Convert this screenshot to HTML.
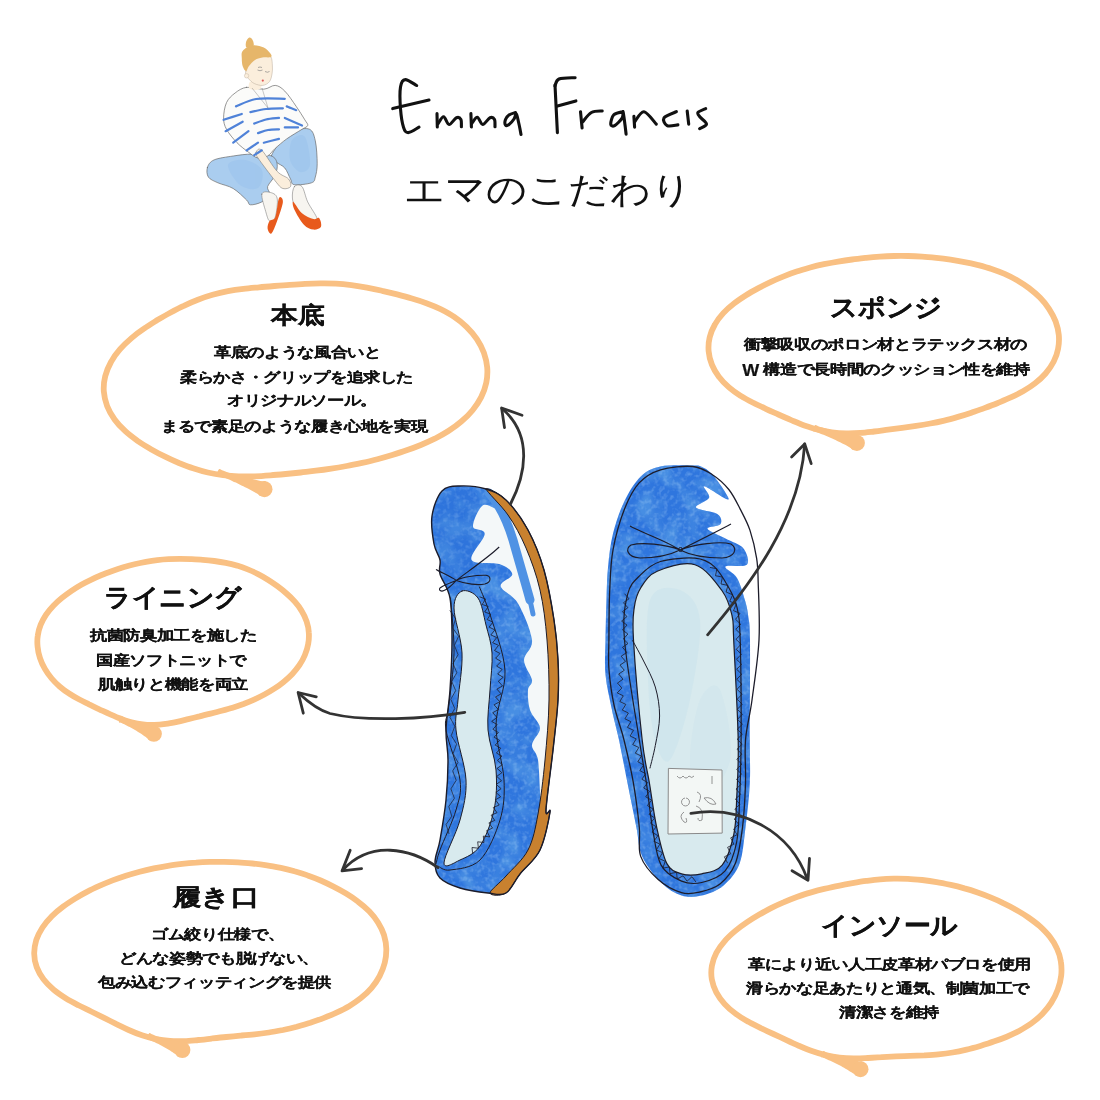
<!DOCTYPE html>
<html><head><meta charset="utf-8"><style>
html,body{margin:0;padding:0;background:#fff;width:1100px;height:1100px;overflow:hidden}
body{position:relative;font-family:"Liberation Sans",sans-serif;color:#111}
svg{position:absolute;left:0;top:0}
.l{position:absolute;white-space:nowrap;line-height:1;transform-origin:0 0}
</style></head><body>
<svg width="1100" height="1100" viewBox="0 0 1100 1100">
<path d="M271.4,156.0 C272.1,152.8 276.1,147.2 280.0,143.0 C283.9,138.8 290.1,133.3 295.0,131.0 C299.9,128.7 306.2,127.7 309.6,129.3 C313.0,130.9 314.0,135.1 315.3,140.8 C316.6,146.5 317.2,157.6 317.2,163.7 C317.2,169.8 316.2,173.9 315.3,177.1 C314.4,180.3 315.0,181.5 311.5,182.8 C308.0,184.1 297.8,185.3 294.3,184.7 C290.8,184.1 292.1,181.8 290.5,179.0 C288.9,176.2 287.2,170.8 284.8,168.0 C282.4,165.2 278.2,164.0 276.0,162.0 C273.8,160.0 270.7,159.2 271.4,156.0 Z" fill="#aacdef" stroke="#6a6a6a" stroke-width="0.7" stroke-linejoin="round" stroke-linecap="round"/>
<path d="M207.4,167.5 C208.3,164.6 209.8,161.8 214.1,159.9 C218.4,158.0 226.8,157.0 233.2,156.0 C239.6,155.0 245.9,154.1 252.3,154.1 C258.7,154.1 267.3,154.4 271.4,156.0 C275.5,157.6 276.5,160.5 277.1,163.7 C277.7,166.9 276.8,171.3 275.2,175.1 C273.6,178.9 268.6,183.4 267.6,186.6 C266.7,189.8 270.5,191.6 269.5,194.2 C268.5,196.8 265.0,200.1 261.8,201.9 C258.6,203.7 252.9,205.1 250.4,204.8 C247.9,204.5 249.5,202.7 246.6,200.0 C243.7,197.3 238.0,191.4 233.2,188.5 C228.4,185.6 222.0,184.7 217.9,182.8 C213.8,180.9 210.2,179.7 208.4,177.1 C206.7,174.5 206.5,170.4 207.4,167.5 Z" fill="#aacdef" stroke="#6a6a6a" stroke-width="0.7" stroke-linejoin="round" stroke-linecap="round"/>
<g opacity="0.3">
<path d="M228.0,165.0 C228.8,160.8 239.3,159.2 245.0,160.0 C250.7,160.8 259.8,165.3 262.0,170.0 C264.2,174.7 261.7,185.5 258.0,188.0 C254.3,190.5 245.0,188.8 240.0,185.0 C235.0,181.2 227.2,169.2 228.0,165.0 Z" fill="#8dbbea" stroke="none" stroke-width="0.7" stroke-linejoin="round" stroke-linecap="round"/>
<path d="M292.0,140.0 C294.5,136.2 302.0,132.8 305.0,137.0 C308.0,141.2 310.8,159.2 310.0,165.0 C309.2,170.8 303.3,172.8 300.0,172.0 C296.7,171.2 291.3,165.3 290.0,160.0 C288.7,154.7 289.5,143.8 292.0,140.0 Z" fill="#8dbbea" stroke="none" stroke-width="0.7" stroke-linejoin="round" stroke-linecap="round"/>
</g>
<path d="M261.8,194.2 C262.4,191.0 266.9,191.7 269.5,192.3 C272.1,192.9 276.2,193.8 277.1,198.0 C278.1,202.2 276.5,213.4 275.2,217.2 C273.9,221.0 271.1,222.0 269.5,221.0 C267.9,220.0 267.0,215.9 265.7,211.4 C264.4,206.9 261.2,197.4 261.8,194.2 Z" fill="#f7f5f0" stroke="#6a6a6a" stroke-width="0.5" stroke-linejoin="round" stroke-linecap="round"/>
<path d="M294.3,186.6 C295.9,184.7 299.8,184.0 302.0,186.6 C304.2,189.2 305.2,196.5 307.7,201.9 C310.2,207.3 316.9,215.9 317.2,219.1 C317.5,222.3 313.1,222.9 309.6,221.0 C306.1,219.1 299.1,211.4 296.2,207.6 C293.3,203.8 292.7,201.5 292.4,198.0 C292.1,194.5 292.7,188.5 294.3,186.6 Z" fill="#f7f5f0" stroke="#6a6a6a" stroke-width="0.5" stroke-linejoin="round" stroke-linecap="round"/>
<path d="M279.0,198.0 C280.3,195.4 283.2,198.1 282.9,201.9 C282.6,205.7 279.0,215.8 277.1,221.0 C275.2,226.2 273.0,232.1 271.4,233.4 C269.8,234.7 267.9,230.7 267.6,228.6 C267.3,226.5 268.2,222.9 269.5,221.0 C270.8,219.1 273.6,221.0 275.2,217.2 C276.8,213.4 277.7,200.6 279.0,198.0 Z" fill="#e85a1c" stroke="none" stroke-width="0.7" stroke-linejoin="round" stroke-linecap="round"/>
<path d="M293.4,201.9 C294.7,202.5 298.7,210.4 302.0,213.3 C305.3,216.2 310.5,218.3 313.4,219.1 C316.2,219.9 317.8,216.8 319.1,218.1 C320.4,219.4 321.9,224.8 321.0,226.7 C320.1,228.6 316.2,229.9 313.4,229.6 C310.5,229.3 307.1,228.2 303.9,224.8 C300.7,221.5 296.1,213.3 294.3,209.5 C292.6,205.7 292.1,201.3 293.4,201.9 Z" fill="#e85a1c" stroke="none" stroke-width="0.7" stroke-linejoin="round" stroke-linecap="round"/>
<path d="M246.6,87.3 C251.4,86.7 259.0,89.5 263.8,89.2 C268.6,88.9 271.7,85.1 275.2,85.4 C278.7,85.7 281.3,87.6 284.8,91.1 C288.3,94.6 292.9,101.6 296.2,106.4 C299.5,111.2 302.9,116.6 304.8,119.8 C306.7,123.0 308.2,123.9 307.7,125.5 C307.2,127.1 305.5,127.1 302.0,129.3 C298.5,131.5 291.2,135.7 286.7,138.9 C282.2,142.1 278.4,145.6 275.2,148.4 C272.0,151.2 270.5,154.4 267.6,156.0 C264.7,157.6 261.2,158.6 258.0,158.0 C254.8,157.4 252.0,154.8 248.5,152.2 C245.0,149.6 240.7,146.5 237.0,142.7 C233.3,138.9 228.7,133.4 226.5,129.3 C224.3,125.2 223.6,122.4 223.6,117.9 C223.6,113.5 224.6,106.8 226.5,102.6 C228.4,98.4 231.8,95.5 235.1,93.0 C238.4,90.5 241.8,87.9 246.6,87.3 Z" fill="#fbfbf9" stroke="#6a6a6a" stroke-width="0.7" stroke-linejoin="round" stroke-linecap="round"/>
<path d="M256.1,152.2 C256.7,150.9 258.3,147.1 261.8,150.3 C265.3,153.5 272.6,166.5 277.1,171.3 C281.6,176.1 286.4,176.4 288.6,179.0 C290.8,181.6 291.4,185.0 290.5,186.6 C289.6,188.2 285.4,189.4 282.9,188.5 C280.3,187.6 279.3,186.0 275.2,180.9 C271.1,175.8 261.2,162.8 258.0,158.0 C254.8,153.2 255.5,153.5 256.1,152.2 Z" fill="#fbeedc" stroke="#6a6a6a" stroke-width="0.5" stroke-linejoin="round" stroke-linecap="round"/>
<path d="M250.4,81.6 C252.2,80.4 258.2,79.9 260.0,81.0 C261.8,82.1 261.8,86.5 261.0,88.0 C260.2,89.5 257.0,90.0 255.0,90.0 C253.0,90.0 249.8,89.4 249.0,88.0 C248.2,86.6 248.6,82.8 250.4,81.6 Z" fill="#fbeedc" stroke="none" stroke-width="0.7" stroke-linejoin="round" stroke-linecap="round"/>
<path d="M246.0,71.0 C246.6,69.0 247.3,65.2 249.0,63.0 C250.7,60.8 253.3,59.1 256.0,58.0 C258.7,56.9 262.5,56.7 265.0,56.5 C267.5,56.3 269.8,55.4 271.0,57.0 C272.2,58.6 272.2,63.2 272.4,66.0 C272.6,68.8 272.5,71.4 272.0,74.0 C271.5,76.6 271.0,79.7 269.5,81.6 C268.0,83.5 265.4,85.1 262.8,85.4 C260.2,85.7 256.6,84.6 254.2,83.5 C251.8,82.4 249.9,80.1 248.5,78.7 C247.1,77.3 246.0,76.2 245.6,74.9 C245.2,73.6 245.4,73.0 246.0,71.0 Z" fill="#fbeedc" stroke="#b9ab9a" stroke-width="0.5" stroke-linejoin="round" stroke-linecap="round"/>
<circle cx="246.6" cy="75.8" r="2.2" fill="#fbeedc" stroke="#b9ab9a" stroke-width="0.4"/>
<path d="M242.7,51.0 C244.4,48.8 248.8,45.9 252.3,45.3 C255.8,44.7 260.9,46.2 263.8,47.5 C266.8,48.8 268.8,51.4 270.0,53.0 C271.2,54.6 272.3,56.2 271.0,57.0 C269.7,57.8 264.7,57.0 262.0,57.5 C259.3,58.0 257.2,58.6 255.0,60.0 C252.8,61.4 250.5,64.2 249.0,66.0 C247.5,67.8 247.1,71.0 246.0,71.0 C244.9,71.0 243.4,68.4 242.7,66.3 C242.0,64.2 241.8,61.1 241.8,58.6 C241.8,56.1 240.9,53.2 242.7,51.0 Z" fill="#e6b66a" stroke="none" stroke-width="0.7" stroke-linejoin="round" stroke-linecap="round"/>
<path d="M249.4,37.5 C250.5,37.2 251.9,38.6 252.6,40.0 C253.3,41.4 254.4,44.8 253.4,46.0 C252.4,47.2 247.7,48.2 246.5,47.5 C245.3,46.8 245.7,43.2 246.2,41.5 C246.7,39.8 248.3,37.8 249.4,37.5 Z" fill="#e6b66a" stroke="none" stroke-width="0.7" stroke-linejoin="round" stroke-linecap="round"/>
<circle cx="262.8" cy="80.6" r="1.1" fill="#e05555"/>
<path d="M257.5,70 q2.5,1.5 5,0 M265,71.5 q2.5,1.5 4.5,0 M258,67.5 q2,-1 4,0" stroke="#777" stroke-width="0.6" fill="none"/>
<path d="M252,88 L268,108 M262,88 L268,108" stroke="#777" stroke-width="0.4" fill="none"/>
<path d="M236.0,106.4 C239.3,105.2 247.9,100.3 256.0,99.0 C264.1,97.7 280.0,98.8 284.8,98.8 " fill="none" stroke="#4f82d8" stroke-width="2.2" stroke-linecap="round"/>
<path d="M223.6,119.8 C226.6,118.8 238.8,115.0 241.8,114.0 " fill="none" stroke="#4f82d8" stroke-width="2.2" stroke-linecap="round"/>
<path d="M250.4,112.1 C253.0,111.6 260.6,109.6 266.0,109.0 C271.4,108.4 280.1,108.4 282.9,108.3 " fill="none" stroke="#4f82d8" stroke-width="2.2" stroke-linecap="round"/>
<path d="M286.7,106.4 C288.3,107.0 294.6,109.6 296.2,110.2 " fill="none" stroke="#4f82d8" stroke-width="2.2" stroke-linecap="round"/>
<path d="M225.6,131.2 C228.4,129.6 239.8,123.3 242.7,121.7 " fill="none" stroke="#4f82d8" stroke-width="2.2" stroke-linecap="round"/>
<path d="M254.2,123.6 C256.2,122.9 261.9,120.5 266.0,119.5 C270.1,118.5 276.8,118.2 279.0,117.9 " fill="none" stroke="#4f82d8" stroke-width="2.2" stroke-linecap="round"/>
<path d="M284.8,117.9 C287.7,119.2 299.1,124.2 302.0,125.5 " fill="none" stroke="#4f82d8" stroke-width="2.2" stroke-linecap="round"/>
<path d="M233.2,142.7 C235.8,140.8 245.9,133.1 248.5,131.2 " fill="none" stroke="#4f82d8" stroke-width="2.2" stroke-linecap="round"/>
<path d="M258.0,133.1 C259.7,132.6 264.5,130.6 268.0,130.0 C271.5,129.4 277.2,129.4 279.0,129.3 " fill="none" stroke="#4f82d8" stroke-width="2.2" stroke-linecap="round"/>
<path d="M284.8,127.4 C287.0,127.4 295.8,127.4 298.0,127.4 " fill="none" stroke="#4f82d8" stroke-width="2.2" stroke-linecap="round"/>
<path d="M246.6,150.3 C248.5,149.0 256.1,144.0 258.0,142.7 " fill="none" stroke="#4f82d8" stroke-width="2.2" stroke-linecap="round"/>
<path d="M263.8,142.7 C266.3,142.1 276.5,139.5 279.0,138.9 " fill="none" stroke="#4f82d8" stroke-width="2.2" stroke-linecap="round"/>
<path d="M254.2,155.1 C255.5,154.3 260.5,151.1 261.8,150.3 " fill="none" stroke="#4f82d8" stroke-width="2.2" stroke-linecap="round"/>
<path d="M305.0,283.9 C310.1,283.6 315.2,283.4 320.3,283.4 C325.5,283.3 330.7,283.4 335.8,283.7 C341.0,284.0 346.2,284.5 351.4,285.1 C356.6,285.8 361.7,286.6 366.9,287.6 C372.0,288.5 377.1,289.6 382.1,290.8 C387.2,291.9 392.2,293.1 397.1,294.4 C402.1,295.7 407.0,297.0 411.9,298.5 C416.7,299.9 421.6,301.4 426.4,303.2 C431.2,305.0 436.0,306.9 440.6,309.1 C445.2,311.4 449.9,313.9 454.2,316.9 C458.5,319.8 462.7,323.1 466.5,326.8 C470.2,330.4 473.8,334.5 476.7,338.9 C479.6,343.2 482.1,347.9 483.9,352.7 C485.6,357.5 486.8,362.6 487.2,367.6 C487.6,372.6 487.3,377.8 486.3,382.7 C485.3,387.6 483.5,392.5 481.2,397.1 C478.9,401.7 475.9,406.1 472.6,410.2 C469.3,414.3 465.3,418.1 461.3,421.5 C457.3,425.0 452.9,428.1 448.4,431.0 C444.0,433.8 439.4,436.3 434.8,438.7 C430.1,441.0 425.5,443.1 420.8,445.0 C416.1,446.9 411.4,448.7 406.6,450.3 C401.9,452.0 397.1,453.5 392.2,455.0 C387.3,456.5 382.4,457.9 377.4,459.2 C372.4,460.5 367.3,461.7 362.1,462.9 C357.0,464.0 351.8,465.1 346.7,466.0 C341.5,467.0 336.3,467.9 331.2,468.6 C326.1,469.4 321.0,470.1 315.9,470.7 C310.8,471.4 305.8,471.9 300.8,472.5 C295.7,473.0 290.7,473.5 285.7,474.0 C280.6,474.5 275.5,475.0 270.3,475.3 C265.2,475.7 259.9,476.1 254.7,476.3 C249.4,476.4 244.1,476.5 238.8,476.4 C233.5,476.2 228.2,475.8 223.1,475.2 C217.9,474.5 212.8,473.6 207.8,472.5 C202.8,471.4 197.9,469.9 193.1,468.3 C188.3,466.8 183.6,464.9 178.9,463.0 C174.3,461.0 169.7,458.9 165.1,456.6 C160.5,454.4 155.9,452.0 151.4,449.4 C146.9,446.8 142.3,444.1 137.9,441.1 C133.6,438.0 129.2,434.8 125.3,431.2 C121.4,427.6 117.6,423.7 114.6,419.5 C111.6,415.3 108.9,410.7 107.1,406.0 C105.3,401.3 104.2,396.3 103.8,391.3 C103.5,386.3 104.0,381.1 105.2,376.3 C106.4,371.4 108.5,366.5 111.0,362.0 C113.4,357.4 116.7,353.1 120.1,349.2 C123.5,345.2 127.5,341.5 131.5,338.1 C135.4,334.7 139.7,331.6 144.0,328.7 C148.2,325.7 152.6,323.0 156.9,320.3 C161.3,317.7 165.7,315.1 170.2,312.7 C174.6,310.3 179.1,307.9 183.8,305.8 C188.4,303.6 193.1,301.5 197.9,299.7 C202.7,297.9 207.6,296.2 212.6,294.8 C217.6,293.4 222.8,292.2 227.9,291.2 C233.1,290.2 238.3,289.5 243.5,288.9 C248.6,288.2 253.8,287.8 259.0,287.3 C264.2,286.8 269.3,286.4 274.4,286.0 C279.5,285.6 284.6,285.2 289.7,284.9 C294.8,284.5 299.9,284.1 305.0,283.9 Z" fill="none" stroke="#f9c083" stroke-width="5.8" stroke-linejoin="round"/><path d="M217.0,474.8 C217.3,476.0 219.5,475.8 220.8,476.3 C222.1,476.8 223.3,477.3 224.6,477.8 C225.8,478.3 227.1,478.8 228.4,479.3 C229.6,479.9 230.9,480.4 232.1,480.9 C233.4,481.5 234.6,482.1 235.9,482.6 C237.1,483.2 238.3,483.8 239.6,484.4 C240.8,485.0 242.0,485.6 243.3,486.2 C244.5,486.8 245.7,487.4 246.9,488.0 C248.2,488.7 249.4,489.3 250.6,489.9 C251.8,490.6 253.0,491.2 254.2,491.9 C255.4,492.6 256.6,493.3 257.8,493.9 C259.0,494.6 259.4,496.5 261.4,496.0 C263.4,495.6 269.2,493.6 270.1,491.3 C271.0,488.9 267.9,483.6 266.6,482.0 C265.3,480.3 263.9,481.5 262.5,481.2 C261.2,481.0 259.8,480.7 258.5,480.4 C257.1,480.1 255.8,479.9 254.4,479.6 C253.1,479.3 251.7,479.0 250.4,478.6 C249.1,478.3 247.7,478.0 246.4,477.7 C245.1,477.3 243.8,477.0 242.4,476.6 C241.1,476.3 239.8,475.9 238.5,475.5 C237.2,475.2 235.9,474.8 234.5,474.4 C233.2,474.0 231.9,473.6 230.6,473.2 C229.3,472.8 228.0,472.3 226.7,471.9 C225.5,471.5 224.2,471.0 222.9,470.6 C221.6,470.1 220.0,468.5 219.0,469.2 C218.1,469.9 216.7,473.6 217.0,474.8 Z" fill="#f9c083"/><circle cx="264.5" cy="489.2" r="8" fill="#f9c083"/><path d="M880.1,256.6 C884.7,256.3 889.3,256.1 894.0,256.0 C898.6,255.9 903.3,255.9 908.0,256.0 C912.7,256.1 917.4,256.3 922.1,256.6 C926.8,256.9 931.6,257.4 936.3,257.9 C941.1,258.4 945.8,259.0 950.5,259.7 C955.2,260.4 959.9,261.2 964.5,262.1 C969.2,263.0 973.7,264.0 978.3,265.1 C982.8,266.3 987.2,267.5 991.6,269.0 C996.0,270.5 1000.3,272.1 1004.6,273.9 C1008.8,275.8 1013.0,277.9 1017.1,280.2 C1021.2,282.6 1025.2,285.2 1029.0,288.1 C1032.8,291.0 1036.6,294.1 1039.9,297.6 C1043.2,301.0 1046.4,304.8 1049.0,308.8 C1051.6,312.8 1053.9,317.0 1055.6,321.4 C1057.2,325.8 1058.4,330.4 1058.8,335.0 C1059.2,339.5 1059.0,344.2 1058.1,348.7 C1057.3,353.2 1055.7,357.7 1053.6,361.8 C1051.5,365.9 1048.7,369.9 1045.6,373.5 C1042.5,377.1 1038.8,380.4 1035.1,383.3 C1031.3,386.3 1027.1,388.9 1023.0,391.3 C1018.8,393.7 1014.5,395.7 1010.2,397.7 C1005.9,399.7 1001.6,401.4 997.3,403.2 C993.0,404.9 988.7,406.5 984.4,408.1 C980.1,409.7 975.7,411.2 971.4,412.7 C967.0,414.2 962.5,415.6 958.0,416.9 C953.5,418.2 948.9,419.5 944.3,420.6 C939.7,421.7 935.0,422.7 930.3,423.5 C925.6,424.4 920.8,425.2 916.1,425.9 C911.4,426.6 906.7,427.2 902.1,427.9 C897.4,428.5 892.8,429.1 888.2,429.7 C883.5,430.3 878.9,431.0 874.3,431.5 C869.7,432.0 865.0,432.6 860.4,432.9 C855.7,433.2 851.0,433.4 846.2,433.3 C841.5,433.2 836.8,432.9 832.0,432.3 C827.3,431.7 822.6,430.8 818.0,429.6 C813.4,428.4 808.8,426.9 804.3,425.4 C799.8,423.8 795.5,421.9 791.2,420.1 C786.8,418.3 782.6,416.4 778.4,414.5 C774.2,412.6 770.0,410.8 765.8,408.8 C761.6,406.9 757.4,405.0 753.2,402.8 C749.1,400.7 744.8,398.5 740.8,395.9 C736.7,393.4 732.6,390.6 729.0,387.4 C725.4,384.3 721.8,380.8 719.0,376.9 C716.1,373.1 713.6,368.9 711.9,364.6 C710.1,360.2 709.0,355.6 708.6,351.0 C708.3,346.5 708.6,341.7 709.7,337.3 C710.7,332.9 712.6,328.5 714.9,324.5 C717.1,320.4 720.1,316.6 723.3,313.1 C726.5,309.6 730.3,306.4 734.0,303.5 C737.8,300.5 741.9,297.8 746.0,295.2 C750.0,292.7 754.2,290.4 758.4,288.1 C762.5,285.9 766.7,283.9 770.9,281.9 C775.2,279.9 779.4,278.1 783.7,276.4 C788.0,274.6 792.3,273.0 796.7,271.6 C801.1,270.1 805.6,268.8 810.2,267.5 C814.7,266.3 819.3,265.2 824.0,264.2 C828.6,263.3 833.3,262.4 838.0,261.6 C842.7,260.8 847.4,260.1 852.1,259.5 C856.8,258.8 861.5,258.3 866.1,257.8 C870.8,257.3 875.4,256.9 880.1,256.6 Z" fill="none" stroke="#f9c083" stroke-width="5.8" stroke-linejoin="round"/><path d="M813.0,430.8 C813.3,432.0 815.4,431.7 816.5,432.1 C817.7,432.5 818.9,433.0 820.0,433.4 C821.2,433.9 822.4,434.3 823.5,434.8 C824.7,435.2 825.8,435.7 827.0,436.2 C828.1,436.7 829.3,437.2 830.4,437.7 C831.6,438.2 832.7,438.7 833.8,439.2 C835.0,439.8 836.1,440.3 837.2,440.9 C838.4,441.4 839.5,442.0 840.6,442.5 C841.8,443.1 842.9,443.7 844.0,444.3 C845.1,444.8 846.2,445.4 847.3,446.0 C848.4,446.6 849.5,447.3 850.6,447.9 C851.7,448.5 852.0,450.3 853.9,449.8 C855.9,449.3 861.7,447.2 862.5,444.8 C863.4,442.5 860.1,437.2 858.9,435.6 C857.6,434.0 856.3,435.3 855.1,435.1 C853.8,434.9 852.6,434.7 851.3,434.5 C850.1,434.3 848.9,434.0 847.6,433.8 C846.4,433.6 845.1,433.3 843.9,433.1 C842.7,432.8 841.4,432.6 840.2,432.3 C839.0,432.0 837.8,431.7 836.6,431.5 C835.3,431.2 834.1,430.9 832.9,430.6 C831.7,430.2 830.5,429.9 829.3,429.6 C828.1,429.3 826.9,428.9 825.7,428.6 C824.5,428.2 823.3,427.9 822.1,427.5 C820.9,427.1 819.7,426.7 818.5,426.4 C817.3,426.0 815.9,424.4 815.0,425.2 C814.1,425.9 812.8,429.7 813.0,430.8 Z" fill="#f9c083"/><circle cx="856.9" cy="442.9" r="8" fill="#f9c083"/><path d="M179.9,558.9 C183.7,558.9 187.4,558.9 191.2,559.1 C195.0,559.3 198.9,559.5 202.7,559.8 C206.6,560.1 210.5,560.5 214.3,561.0 C218.2,561.5 222.1,562.1 225.8,562.9 C229.6,563.7 233.4,564.6 237.1,565.6 C240.7,566.7 244.3,568.0 247.8,569.4 C251.3,570.8 254.7,572.4 258.1,574.1 C261.4,575.8 264.7,577.7 267.9,579.7 C271.1,581.7 274.3,583.9 277.4,586.2 C280.5,588.5 283.6,590.9 286.5,593.5 C289.4,596.0 292.3,598.8 294.8,601.7 C297.4,604.6 299.8,607.7 301.7,611.0 C303.7,614.3 305.4,617.8 306.6,621.4 C307.8,625.0 308.6,628.8 308.8,632.5 C309.1,636.3 308.9,640.2 308.2,643.9 C307.6,647.7 306.4,651.4 304.9,655.0 C303.5,658.5 301.5,662.0 299.4,665.2 C297.2,668.4 294.7,671.4 292.1,674.2 C289.4,677.0 286.5,679.5 283.6,681.9 C280.6,684.4 277.5,686.6 274.3,688.7 C271.1,690.8 267.8,692.7 264.4,694.5 C261.1,696.3 257.6,698.0 254.1,699.6 C250.6,701.2 247.1,702.6 243.5,704.0 C239.9,705.3 236.3,706.5 232.6,707.7 C229.0,708.8 225.3,709.8 221.6,710.8 C218.0,711.8 214.3,712.7 210.6,713.6 C206.9,714.5 203.2,715.4 199.5,716.4 C195.8,717.3 192.0,718.2 188.3,719.1 C184.6,720.0 180.8,721.0 177.0,721.8 C173.2,722.6 169.4,723.4 165.6,723.9 C161.8,724.5 158.0,724.9 154.2,724.9 C150.4,725.0 146.5,724.9 142.8,724.4 C139.0,724.0 135.2,723.2 131.5,722.2 C127.8,721.2 124.2,720.0 120.6,718.6 C116.9,717.3 113.4,715.7 109.8,714.1 C106.3,712.6 102.8,710.9 99.3,709.3 C95.8,707.7 92.4,706.0 89.0,704.4 C85.6,702.7 82.2,701.1 78.9,699.3 C75.5,697.5 72.3,695.6 69.1,693.5 C65.9,691.5 62.8,689.2 59.9,686.7 C57.0,684.2 54.2,681.5 51.7,678.5 C49.2,675.5 46.8,672.3 44.9,668.9 C42.9,665.5 41.2,661.8 40.0,658.1 C38.8,654.4 37.9,650.6 37.6,646.8 C37.2,643.0 37.2,639.2 37.8,635.5 C38.3,631.8 39.3,628.2 40.7,624.7 C42.1,621.2 44.0,617.9 46.1,614.7 C48.2,611.6 50.7,608.5 53.4,605.7 C56.1,602.9 59.1,600.2 62.1,597.8 C65.1,595.3 68.3,593.0 71.5,590.8 C74.7,588.7 78.0,586.7 81.3,584.8 C84.6,582.9 88.0,581.2 91.4,579.6 C94.8,577.9 98.2,576.4 101.6,575.0 C105.1,573.5 108.7,572.2 112.3,570.9 C115.9,569.6 119.5,568.4 123.3,567.3 C127.0,566.2 130.8,565.1 134.5,564.2 C138.3,563.3 142.1,562.5 145.9,561.8 C149.7,561.1 153.6,560.5 157.3,560.1 C161.1,559.7 164.9,559.4 168.6,559.2 C172.4,559.0 176.1,558.9 179.9,558.9 Z" fill="none" stroke="#f9c083" stroke-width="5.8" stroke-linejoin="round"/><path d="M118.8,721.7 C118.9,722.9 120.6,722.6 121.6,723.0 C122.5,723.4 123.4,723.9 124.3,724.3 C125.2,724.7 126.1,725.2 127.0,725.7 C127.9,726.1 128.8,726.6 129.7,727.1 C130.6,727.6 131.5,728.0 132.4,728.5 C133.3,729.0 134.2,729.6 135.0,730.1 C135.9,730.6 136.8,731.1 137.7,731.7 C138.5,732.2 139.4,732.8 140.3,733.3 C141.1,733.9 142.0,734.4 142.8,735.0 C143.7,735.6 144.5,736.2 145.4,736.8 C146.2,737.4 147.1,738.0 147.9,738.6 C148.7,739.2 148.5,740.9 150.4,740.5 C152.3,740.1 158.4,738.5 159.4,736.2 C160.4,733.9 157.4,728.4 156.4,726.7 C155.4,725.1 154.4,726.4 153.3,726.2 C152.3,726.0 151.3,725.8 150.3,725.6 C149.3,725.3 148.3,725.1 147.3,724.9 C146.3,724.6 145.3,724.4 144.3,724.2 C143.3,723.9 142.3,723.6 141.3,723.4 C140.3,723.1 139.3,722.8 138.4,722.5 C137.4,722.2 136.4,721.9 135.4,721.6 C134.5,721.3 133.5,721.0 132.5,720.7 C131.6,720.3 130.6,720.0 129.7,719.6 C128.7,719.3 127.8,718.9 126.8,718.6 C125.9,718.2 124.9,717.8 124.0,717.4 C123.1,717.1 122.1,715.5 121.2,716.3 C120.3,717.0 118.7,720.6 118.8,721.7 Z" fill="#f9c083"/><circle cx="153.9" cy="733.8" r="8" fill="#f9c083"/><path d="M209.8,861.9 C214.5,861.8 219.1,861.8 223.8,861.9 C228.5,862.0 233.3,862.1 238.1,862.4 C242.8,862.7 247.7,863.1 252.5,863.5 C257.3,864.0 262.1,864.6 266.9,865.3 C271.6,866.0 276.3,866.9 280.9,867.8 C285.5,868.8 290.1,869.9 294.5,871.2 C299.0,872.4 303.4,873.8 307.7,875.4 C312.1,876.9 316.4,878.6 320.7,880.5 C325.0,882.4 329.2,884.4 333.5,886.6 C337.7,888.7 342.0,891.1 346.1,893.6 C350.2,896.1 354.4,898.8 358.2,901.8 C362.1,904.7 365.9,907.9 369.2,911.3 C372.5,914.8 375.6,918.5 378.0,922.4 C380.5,926.4 382.6,930.6 384.0,935.0 C385.3,939.4 386.2,944.1 386.3,948.7 C386.4,953.3 385.9,958.1 384.8,962.7 C383.7,967.2 381.8,971.8 379.6,976.1 C377.4,980.3 374.5,984.4 371.4,988.1 C368.3,991.7 364.6,995.1 360.9,998.1 C357.2,1001.1 353.1,1003.8 349.1,1006.2 C345.0,1008.6 340.7,1010.7 336.5,1012.7 C332.2,1014.7 327.9,1016.4 323.5,1018.1 C319.1,1019.7 314.7,1021.2 310.3,1022.7 C305.8,1024.1 301.3,1025.4 296.8,1026.7 C292.2,1027.9 287.6,1029.0 283.0,1030.0 C278.3,1030.9 273.6,1031.8 268.9,1032.5 C264.1,1033.2 259.4,1033.8 254.6,1034.3 C249.9,1034.8 245.1,1035.2 240.4,1035.6 C235.7,1036.1 231.0,1036.5 226.3,1037.0 C221.6,1037.4 217.0,1037.9 212.4,1038.4 C207.7,1039.0 203.1,1039.6 198.4,1040.0 C193.7,1040.4 189.0,1040.9 184.3,1041.1 C179.5,1041.2 174.8,1041.3 170.0,1040.9 C165.3,1040.6 160.5,1040.0 155.8,1039.1 C151.2,1038.1 146.5,1036.8 142.0,1035.3 C137.5,1033.8 133.0,1031.9 128.7,1030.0 C124.4,1028.1 120.2,1025.9 116.0,1023.9 C111.8,1021.8 107.8,1019.7 103.6,1017.6 C99.5,1015.6 95.4,1013.6 91.2,1011.5 C87.0,1009.4 82.7,1007.5 78.5,1005.3 C74.2,1003.1 69.9,1000.9 65.7,998.3 C61.6,995.7 57.4,992.9 53.7,989.8 C50.0,986.6 46.4,983.1 43.5,979.3 C40.7,975.5 38.3,971.3 36.7,967.1 C35.1,962.8 34.2,958.2 34.2,953.7 C34.1,949.2 34.9,944.6 36.2,940.2 C37.6,935.9 39.9,931.5 42.5,927.5 C45.1,923.5 48.4,919.8 51.8,916.3 C55.3,912.8 59.2,909.6 63.1,906.7 C67.0,903.7 71.1,901.1 75.1,898.6 C79.2,896.1 83.3,893.8 87.4,891.7 C91.5,889.5 95.7,887.6 99.9,885.7 C104.1,883.8 108.3,882.1 112.6,880.4 C117.0,878.7 121.4,877.2 125.9,875.7 C130.4,874.3 135.0,873.0 139.7,871.7 C144.3,870.5 149.1,869.4 153.8,868.4 C158.5,867.4 163.3,866.5 168.0,865.8 C172.7,865.0 177.4,864.4 182.1,863.8 C186.7,863.3 191.3,862.9 196.0,862.6 C200.6,862.2 205.2,862.0 209.8,861.9 Z" fill="none" stroke="#f9c083" stroke-width="5.8" stroke-linejoin="round"/><path d="M146.9,1038.8 C147.0,1039.9 148.7,1039.6 149.7,1040.0 C150.6,1040.4 151.5,1040.8 152.5,1041.2 C153.4,1041.6 154.3,1042.0 155.2,1042.5 C156.2,1042.9 157.1,1043.4 158.0,1043.8 C158.9,1044.3 159.8,1044.8 160.7,1045.3 C161.6,1045.7 162.5,1046.2 163.4,1046.7 C164.3,1047.2 165.2,1047.7 166.1,1048.2 C167.0,1048.8 167.8,1049.3 168.7,1049.8 C169.6,1050.4 170.5,1050.9 171.3,1051.5 C172.2,1052.0 173.1,1052.6 173.9,1053.2 C174.8,1053.7 175.7,1054.3 176.5,1054.9 C177.4,1055.5 177.2,1057.2 179.1,1056.7 C181.0,1056.3 187.0,1054.6 187.9,1052.3 C188.9,1049.9 185.8,1044.5 184.7,1042.9 C183.7,1041.2 182.7,1042.5 181.6,1042.4 C180.6,1042.2 179.6,1042.0 178.6,1041.8 C177.5,1041.6 176.5,1041.4 175.5,1041.2 C174.5,1041.0 173.5,1040.8 172.5,1040.6 C171.5,1040.3 170.5,1040.1 169.5,1039.9 C168.5,1039.6 167.5,1039.3 166.5,1039.1 C165.5,1038.8 164.5,1038.5 163.6,1038.2 C162.6,1038.0 161.6,1037.7 160.6,1037.4 C159.6,1037.1 158.7,1036.7 157.7,1036.4 C156.7,1036.1 155.8,1035.8 154.8,1035.4 C153.9,1035.1 152.9,1034.7 152.0,1034.3 C151.0,1034.0 150.0,1032.5 149.1,1033.2 C148.3,1034.0 146.8,1037.7 146.9,1038.8 Z" fill="#f9c083"/><circle cx="182.4" cy="1050.0" r="8" fill="#f9c083"/><path d="M880.0,879.3 C884.6,878.9 889.2,878.7 893.8,878.6 C898.4,878.5 903.1,878.6 907.9,878.8 C912.6,879.0 917.4,879.5 922.2,880.0 C927.0,880.6 931.9,881.3 936.6,882.1 C941.4,882.9 946.1,883.9 950.8,884.9 C955.4,885.9 960.0,887.1 964.4,888.4 C968.9,889.6 973.3,891.0 977.6,892.5 C982.0,894.0 986.2,895.6 990.5,897.4 C994.7,899.1 999.0,901.0 1003.2,903.1 C1007.5,905.1 1011.7,907.3 1015.9,909.7 C1020.1,912.1 1024.4,914.7 1028.4,917.5 C1032.4,920.3 1036.4,923.2 1040.0,926.4 C1043.5,929.7 1047.0,933.1 1049.8,936.8 C1052.7,940.5 1055.2,944.4 1057.0,948.6 C1058.9,952.7 1060.3,957.1 1060.9,961.7 C1061.6,966.2 1061.7,970.9 1061.2,975.6 C1060.7,980.2 1059.5,985.0 1057.8,989.5 C1056.2,994.0 1053.9,998.5 1051.3,1002.6 C1048.7,1006.7 1045.6,1010.5 1042.3,1014.0 C1039.0,1017.4 1035.2,1020.5 1031.5,1023.3 C1027.7,1026.1 1023.6,1028.5 1019.5,1030.8 C1015.4,1033.0 1011.1,1034.9 1006.8,1036.7 C1002.5,1038.5 998.2,1040.1 993.7,1041.6 C989.3,1043.2 984.8,1044.6 980.3,1046.0 C975.8,1047.3 971.2,1048.6 966.6,1049.6 C961.9,1050.7 957.3,1051.7 952.6,1052.5 C947.9,1053.3 943.1,1053.9 938.4,1054.4 C933.7,1054.8 928.9,1055.1 924.2,1055.4 C919.5,1055.6 914.7,1055.7 910.0,1055.9 C905.4,1056.0 900.7,1056.2 896.0,1056.4 C891.4,1056.6 886.7,1056.9 882.0,1057.1 C877.4,1057.4 872.7,1057.8 868.0,1058.0 C863.3,1058.2 858.6,1058.5 853.8,1058.4 C849.1,1058.3 844.3,1058.1 839.6,1057.6 C834.9,1057.1 830.2,1056.2 825.5,1055.1 C820.9,1054.0 816.3,1052.6 811.9,1051.0 C807.4,1049.4 803.0,1047.5 798.7,1045.7 C794.4,1043.8 790.2,1041.8 786.0,1039.8 C781.8,1037.9 777.6,1035.9 773.4,1034.0 C769.2,1032.0 765.0,1030.1 760.8,1028.1 C756.6,1026.0 752.2,1024.0 748.1,1021.6 C743.9,1019.3 739.6,1016.8 735.7,1013.8 C731.8,1010.9 727.9,1007.7 724.7,1004.1 C721.4,1000.5 718.5,996.5 716.3,992.4 C714.2,988.3 712.6,983.7 711.8,979.3 C711.1,974.9 711.1,970.2 711.9,965.7 C712.7,961.3 714.3,956.9 716.4,952.8 C718.6,948.7 721.5,944.7 724.7,941.1 C727.8,937.4 731.5,934.1 735.3,930.9 C739.0,927.8 743.1,924.9 747.1,922.2 C751.1,919.5 755.2,917.0 759.3,914.6 C763.4,912.2 767.4,910.0 771.5,907.9 C775.6,905.8 779.7,903.9 784.0,902.1 C788.2,900.2 792.4,898.5 796.8,896.9 C801.2,895.4 805.7,893.9 810.3,892.6 C814.8,891.3 819.5,890.0 824.2,888.9 C828.9,887.8 833.7,886.7 838.4,885.8 C843.1,884.8 847.8,883.9 852.5,883.1 C857.1,882.3 861.7,881.5 866.3,880.9 C870.9,880.3 875.4,879.7 880.0,879.3 Z" fill="none" stroke="#f9c083" stroke-width="5.8" stroke-linejoin="round"/><path d="M820.9,1056.8 C821.1,1057.9 823.0,1057.6 824.1,1058.1 C825.1,1058.5 826.1,1059.0 827.2,1059.4 C828.2,1059.9 829.3,1060.3 830.3,1060.8 C831.3,1061.3 832.4,1061.8 833.4,1062.3 C834.4,1062.7 835.4,1063.3 836.4,1063.8 C837.5,1064.3 838.5,1064.8 839.5,1065.3 C840.5,1065.9 841.5,1066.4 842.5,1067.0 C843.5,1067.5 844.5,1068.1 845.5,1068.7 C846.5,1069.2 847.5,1069.8 848.5,1070.4 C849.5,1071.0 850.4,1071.6 851.4,1072.2 C852.4,1072.8 853.4,1073.4 854.3,1074.1 C855.3,1074.7 855.3,1076.4 857.2,1076.0 C859.2,1075.5 865.1,1073.7 866.0,1071.4 C867.0,1069.1 863.9,1063.7 862.8,1062.0 C861.6,1060.4 860.5,1061.6 859.3,1061.4 C858.2,1061.2 857.0,1061.0 855.9,1060.8 C854.8,1060.6 853.7,1060.3 852.5,1060.1 C851.4,1059.9 850.3,1059.6 849.2,1059.3 C848.1,1059.1 846.9,1058.8 845.8,1058.5 C844.7,1058.3 843.6,1058.0 842.5,1057.7 C841.4,1057.4 840.3,1057.1 839.2,1056.7 C838.1,1056.4 837.0,1056.1 836.0,1055.7 C834.9,1055.4 833.8,1055.1 832.7,1054.7 C831.6,1054.3 830.6,1054.0 829.5,1053.6 C828.4,1053.2 827.3,1052.8 826.3,1052.4 C825.2,1052.0 824.0,1050.5 823.1,1051.2 C822.2,1051.9 820.7,1055.6 820.9,1056.8 Z" fill="#f9c083"/><circle cx="860.5" cy="1069.2" r="8" fill="#f9c083"/>
<path d="M442.0,491.0 C446.7,486.0 452.7,486.3 460.0,486.0 C467.3,485.7 478.3,486.7 486.0,489.0 C493.7,491.3 499.0,493.2 506.0,500.0 C513.0,506.8 521.7,518.3 528.0,530.0 C534.3,541.7 539.7,555.0 544.0,570.0 C548.3,585.0 551.7,605.0 554.0,620.0 C556.3,635.0 557.3,646.7 558.0,660.0 C558.7,673.3 558.8,685.0 558.0,700.0 C557.2,715.0 555.0,731.7 553.0,750.0 C551.0,768.3 546.5,799.7 546.0,810.0 C545.5,820.3 551.0,805.3 550.0,812.0 C549.0,818.7 545.0,839.7 540.0,850.0 C535.0,860.3 525.7,866.8 520.0,874.0 C514.3,881.2 511.3,889.8 506.0,893.0 C500.7,896.2 495.7,893.8 488.0,893.0 C480.3,892.2 468.0,890.5 460.0,888.0 C452.0,885.5 444.2,882.3 440.0,878.0 C435.8,873.7 435.0,868.3 435.0,862.0 C435.0,855.7 438.2,850.3 440.0,840.0 C441.8,829.7 444.7,813.3 446.0,800.0 C447.3,786.7 448.0,771.7 448.0,760.0 C448.0,748.3 445.7,741.7 446.0,730.0 C446.3,718.3 449.0,705.0 450.0,690.0 C451.0,675.0 452.0,655.3 452.0,640.0 C452.0,624.7 452.0,609.0 450.0,598.0 C448.0,587.0 441.7,580.3 440.0,574.0 C438.3,567.7 441.0,565.0 440.0,560.0 C439.0,555.0 435.3,551.3 434.0,544.0 C432.7,536.7 430.7,524.8 432.0,516.0 C433.3,507.2 437.3,496.0 442.0,491.0 Z" fill="#2f76de" stroke="none" stroke-width="1.0" stroke-linejoin="round" stroke-linecap="round" />
<defs><filter id="wc" x="0" y="0" width="100%" height="100%"><feTurbulence type="fractalNoise" baseFrequency="0.22" numOctaves="2" seed="7"/><feColorMatrix type="matrix" values="0 0 0 0 0.42  0 0 0 0 0.66  0 0 0 0 0.95  0 0 0 -2.6 1.45"/></filter><filter id="wd" x="0" y="0" width="100%" height="100%"><feTurbulence type="fractalNoise" baseFrequency="0.05" numOctaves="2" seed="3"/><feColorMatrix type="matrix" values="0 0 0 0 0.12  0 0 0 0 0.38  0 0 0 0 0.80  0 0 0 3.2 -1.3"/></filter><clipPath id="cl"><path d="M442.0,491.0 C446.7,486.0 452.7,486.3 460.0,486.0 C467.3,485.7 478.3,486.7 486.0,489.0 C493.7,491.3 499.0,493.2 506.0,500.0 C513.0,506.8 521.7,518.3 528.0,530.0 C534.3,541.7 539.7,555.0 544.0,570.0 C548.3,585.0 551.7,605.0 554.0,620.0 C556.3,635.0 557.3,646.7 558.0,660.0 C558.7,673.3 558.8,685.0 558.0,700.0 C557.2,715.0 555.0,731.7 553.0,750.0 C551.0,768.3 546.5,799.7 546.0,810.0 C545.5,820.3 551.0,805.3 550.0,812.0 C549.0,818.7 545.0,839.7 540.0,850.0 C535.0,860.3 525.7,866.8 520.0,874.0 C514.3,881.2 511.3,889.8 506.0,893.0 C500.7,896.2 495.7,893.8 488.0,893.0 C480.3,892.2 468.0,890.5 460.0,888.0 C452.0,885.5 444.2,882.3 440.0,878.0 C435.8,873.7 435.0,868.3 435.0,862.0 C435.0,855.7 438.2,850.3 440.0,840.0 C441.8,829.7 444.7,813.3 446.0,800.0 C447.3,786.7 448.0,771.7 448.0,760.0 C448.0,748.3 445.7,741.7 446.0,730.0 C446.3,718.3 449.0,705.0 450.0,690.0 C451.0,675.0 452.0,655.3 452.0,640.0 C452.0,624.7 452.0,609.0 450.0,598.0 C448.0,587.0 441.7,580.3 440.0,574.0 C438.3,567.7 441.0,565.0 440.0,560.0 C439.0,555.0 435.3,551.3 434.0,544.0 C432.7,536.7 430.7,524.8 432.0,516.0 C433.3,507.2 437.3,496.0 442.0,491.0 Z"/></clipPath><clipPath id="cr"><path d="M660.5,466.5 C669.1,464.7 686.0,465.5 692.7,465.5 C699.5,465.5 697.8,465.1 701.0,466.5 C704.2,467.9 707.9,469.6 712.0,474.0 C716.1,478.4 723.0,488.5 725.5,492.7 C728.0,496.9 730.5,500.4 727.0,499.3 C723.5,498.2 707.2,486.5 704.2,486.2 C701.2,485.9 710.5,494.1 709.1,497.7 C707.7,501.2 694.6,504.8 696.0,507.5 C697.4,510.2 713.2,511.3 717.3,514.0 C721.4,516.7 722.2,521.4 720.6,523.9 C719.0,526.4 706.7,526.3 707.5,528.8 C708.3,531.2 719.5,535.3 725.5,538.6 C731.5,541.9 740.0,544.0 743.5,548.4 C747.0,552.8 749.8,561.8 746.8,564.8 C743.8,567.8 727.1,564.2 725.5,566.4 C723.9,568.6 733.7,572.2 737.0,577.9 C740.3,583.6 743.2,594.2 745.1,600.8 C747.0,607.3 747.6,610.7 748.4,617.2 C749.2,623.7 749.8,619.5 750.0,640.0 C750.2,660.5 749.8,716.1 749.8,740.0 C749.8,763.9 750.5,769.1 749.8,783.6 C749.1,798.1 747.2,814.0 745.5,827.3 C743.8,840.6 743.2,853.9 739.6,863.6 C736.0,873.3 729.9,880.2 723.6,885.5 C717.3,890.8 708.8,893.9 701.8,895.6 C694.8,897.3 688.3,897.8 681.5,895.6 C674.7,893.4 667.6,889.0 661.1,882.5 C654.6,876.0 646.3,865.6 642.2,856.4 C638.1,847.2 638.8,839.4 636.4,827.3 C634.0,815.2 630.5,798.1 627.6,783.6 C624.7,769.1 621.6,752.3 619.0,740.0 C616.4,727.7 614.2,720.8 612.0,710.0 C609.8,699.2 606.6,686.7 605.5,675.0 C604.4,663.3 605.3,652.6 605.5,640.0 C605.7,627.4 606.1,611.4 606.5,599.1 C606.9,586.8 607.0,577.3 608.1,566.4 C609.2,555.5 610.3,544.5 613.0,533.6 C615.7,522.7 619.9,510.4 624.5,500.9 C629.1,491.4 634.8,482.1 640.8,476.4 C646.8,470.7 651.9,468.3 660.5,466.5 Z"/></clipPath></defs>
<rect x="420" y="480" width="150" height="420" filter="url(#wd)" clip-path="url(#cl)" opacity="0.5"/>
<rect x="420" y="480" width="150" height="420" filter="url(#wc)" clip-path="url(#cl)" opacity="0.32"/>
<path d="M445.0,495.0 C450.7,490.8 464.2,488.3 470.0,490.0 C475.8,491.7 480.0,498.3 480.0,505.0 C480.0,511.7 470.0,520.8 470.0,530.0 C470.0,539.2 481.7,550.8 480.0,560.0 C478.3,569.2 465.8,583.3 460.0,585.0 C454.2,586.7 448.7,577.5 445.0,570.0 C441.3,562.5 439.5,549.2 438.0,540.0 C436.5,530.8 434.8,522.5 436.0,515.0 C437.2,507.5 439.3,499.2 445.0,495.0 Z" fill="#2a6fd6" stroke="none" stroke-width="1.0" stroke-linejoin="round" stroke-linecap="round" opacity="0.25"/>
<path d="M481.8,506.2 C485.2,503.0 489.4,506.2 493.4,507.7 C497.4,509.2 501.2,510.4 506.0,515.0 C510.8,519.5 517.0,526.7 522.0,535.0 C527.0,543.3 532.0,554.2 536.0,565.0 C540.0,575.8 543.3,585.8 546.0,600.0 C548.7,614.2 550.7,633.3 552.0,650.0 C553.3,666.7 554.0,683.3 554.0,700.0 C554.0,716.7 553.2,733.3 552.0,750.0 C550.8,766.7 548.8,791.7 547.0,800.0 C545.2,808.3 542.5,806.7 541.0,800.0 C539.5,793.3 539.5,769.2 538.0,760.0 C536.5,750.8 531.7,750.3 532.0,745.0 C532.3,739.7 540.3,733.8 540.0,728.0 C539.7,722.2 532.0,716.3 530.0,710.0 C528.0,703.7 527.7,695.0 528.0,690.0 C528.3,685.0 532.7,685.0 532.0,680.0 C531.3,675.0 524.0,666.7 524.0,660.0 C524.0,653.3 533.0,649.4 532.0,640.0 C531.0,630.6 523.4,612.7 518.2,603.7 C513.0,594.8 501.7,591.1 500.7,586.3 C499.7,581.4 512.3,578.2 512.3,574.6 C512.3,571.0 507.5,566.8 500.7,564.4 C493.9,562.0 474.3,565.1 471.6,560.0 C468.9,554.9 484.5,539.5 484.7,533.9 C484.9,528.3 473.5,531.2 473.0,526.6 C472.5,522.0 478.4,509.4 481.8,506.2 Z" fill="#f4f8f9" stroke="none" stroke-width="1.0" stroke-linejoin="round" stroke-linecap="round" />
<path d="M489,493 C498,503 507,520 513,540 C518,558 524,578 530,600" fill="none" stroke="#4f92e4" stroke-width="9" stroke-linecap="round"/>
<path d="M530,600 L533,614" fill="none" stroke="#4f92e4" stroke-width="5" stroke-linecap="round"/>
<path d="M486.0,489.0 C485.7,486.5 499.0,493.2 506.0,500.0 C513.0,506.8 521.7,518.3 528.0,530.0 C534.3,541.7 539.7,555.0 544.0,570.0 C548.3,585.0 551.7,605.0 554.0,620.0 C556.3,635.0 557.3,646.7 558.0,660.0 C558.7,673.3 558.8,685.0 558.0,700.0 C557.2,715.0 555.0,731.7 553.0,750.0 C551.0,768.3 546.5,799.7 546.0,810.0 C545.5,820.3 551.0,805.3 550.0,812.0 C549.0,818.7 545.0,839.7 540.0,850.0 C535.0,860.3 525.7,866.8 520.0,874.0 C514.3,881.2 511.0,889.8 506.0,893.0 C501.0,896.2 490.0,895.8 490.0,893.0 C490.0,890.2 499.7,883.2 506.0,876.0 C512.3,868.8 522.7,860.3 528.0,850.0 C533.3,839.7 535.2,829.0 538.0,814.0 C540.8,799.0 543.2,779.0 545.0,760.0 C546.8,741.0 548.7,720.0 549.0,700.0 C549.3,680.0 548.5,658.3 547.0,640.0 C545.5,621.7 543.5,605.3 540.0,590.0 C536.5,574.7 531.3,560.5 526.0,548.0 C520.7,535.5 514.7,524.8 508.0,515.0 C501.3,505.2 486.3,491.5 486.0,489.0 Z" fill="#c8812f" stroke="#1c1c2a" stroke-width="1.0" stroke-linejoin="round" stroke-linecap="round" />
<path d="M462.0,591.0 C466.0,589.3 474.0,592.3 478.0,598.0 C482.0,603.7 483.7,615.8 486.0,625.0 C488.3,634.2 491.3,642.2 492.0,653.0 C492.7,663.8 490.7,677.2 490.0,690.0 C489.3,702.8 487.0,716.7 488.0,730.0 C489.0,743.3 495.0,756.7 496.0,770.0 C497.0,783.3 496.7,797.3 494.0,810.0 C491.3,822.7 485.7,837.7 480.0,846.0 C474.3,854.3 466.0,857.2 460.0,860.0 C454.0,862.8 444.0,869.7 444.0,863.0 C444.0,856.3 456.3,833.8 460.0,820.0 C463.7,806.2 466.7,795.0 466.0,780.0 C465.3,765.0 457.3,743.3 456.0,730.0 C454.7,716.7 457.0,712.8 458.0,700.0 C459.0,687.2 462.7,668.3 462.0,653.0 C461.3,637.7 454.0,618.3 454.0,608.0 C454.0,597.7 458.0,592.7 462.0,591.0 Z" fill="#d8eaee" stroke="#1c1c2a" stroke-width="1.0" stroke-linejoin="round" stroke-linecap="round" />
<path d="M450.5,598.0 C451.1,607.2 454.3,634.8 454.0,653.0 C453.7,671.2 449.9,694.2 448.6,707.0 C447.3,719.8 444.1,717.8 446.0,730.0 C447.9,742.2 458.3,766.7 460.0,780.0 C461.7,793.3 459.3,798.3 456.0,810.0 C452.7,821.7 443.3,841.0 440.0,850.0 C436.7,859.0 436.7,861.7 436.0,864.0 " fill="none" stroke="#1c1c2a" stroke-width="1.0" stroke-linejoin="round" stroke-linecap="round" />
<path d="M479.5,587.0 C481.3,591.8 486.2,602.0 490.5,616.0 C494.8,630.0 504.1,652.8 505.0,671.0 C505.9,689.2 496.2,706.8 496.0,725.0 C495.8,743.2 503.3,764.2 504.0,780.0 C504.7,795.8 504.0,806.7 500.0,820.0 C496.0,833.3 488.3,851.7 480.0,860.0 C471.7,868.3 457.0,869.0 450.0,870.0 C443.0,871.0 440.0,866.7 438.0,866.0 " fill="none" stroke="#1c1c2a" stroke-width="1.0" stroke-linejoin="round" stroke-linecap="round" />
<path d="M456.3,580.4 C462,577 476,575 486,575.3 C491,576 492,582 484.7,584 C478,585.5 466,584 456.3,580.4 Z M456.3,580.4 C452,582 444,585 440.3,587.7 C438,590 441,592 444,590.6 C448,589 453,584 456.3,580.4 Z M456.3,580.4 C470,570 490,556 499.2,547 M456.3,580.4 C450,576 440,572 436,569.5" fill="none" stroke="#1c1c2a" stroke-width="1.1"/>
<path d="M479.6,596.8 L485.6,599.0 L482.2,604.4 L488.2,606.6 L484.7,612.0 L490.7,614.2 L487.2,619.6 L493.0,622.1 L489.1,627.1 L494.9,629.9 L490.9,634.9 L496.7,637.6 L492.7,642.7 L498.5,645.4 L494.5,650.5 L500.0,653.5 L495.6,658.2 L501.1,661.5 L496.6,666.1 L502.1,669.4 L497.7,674.0 L503.2,677.3 L498.3,681.2 L502.5,686.0 L496.9,689.1 L501.1,693.9 L495.5,696.9 L499.7,701.7 L494.1,704.8 L498.4,709.6 L492.7,712.7 L497.0,717.5 L491.7,721.4 L497.2,724.6 L492.9,729.3 L498.4,732.5 L494.1,737.2 L499.6,740.4 L495.2,745.1 L500.8,748.3 L496.4,753.0 L502.0,756.2 L497.5,760.4 L502.3,764.7 L497.1,768.4 L501.9,772.7 L496.7,776.4 L501.5,780.7 L496.3,784.4 L501.1,788.7 L495.9,792.4 L500.7,796.7 L495.5,799.8 L499.2,805.0 L493.3,807.5 L497.0,812.7 L491.1,815.2 L494.8,820.4 L488.9,822.9 L492.6,828.1 L486.7,830.6 L489.7,836.9 L483.3,836.1 L484.0,842.5 L477.7,841.8 L478.4,848.2 L472.0,847.5 L472.7,853.8" fill="none" stroke="#1c1c2a" stroke-width="0.8" stroke-linejoin="miter"/>
<path d="M449.8,610.4 L455.6,618.5 L452.8,628.1 L458.6,636.3 L454.4,645.4 L458.1,654.7 L453.0,663.4 L456.8,672.7 L451.7,681.4 L455.7,690.6 L450.8,699.3 L454.8,708.5 L449.9,717.3 L454.8,726.2 L451.3,735.6 L456.6,744.1 L453.1,753.5 L458.0,762.4 L452.7,770.9 L456.2,780.3 L450.9,788.9 L454.4,798.3 L448.8,806.6 L451.8,816.2 L446.1,824.4 L449.1,834.0" fill="none" stroke="#1c1c2a" stroke-width="0.7" stroke-linejoin="miter"/>
<path d="M442.0,491.0 C446.7,486.0 452.7,486.3 460.0,486.0 C467.3,485.7 478.3,486.7 486.0,489.0 C493.7,491.3 499.0,493.2 506.0,500.0 C513.0,506.8 521.7,518.3 528.0,530.0 C534.3,541.7 539.7,555.0 544.0,570.0 C548.3,585.0 551.7,605.0 554.0,620.0 C556.3,635.0 557.3,646.7 558.0,660.0 C558.7,673.3 558.8,685.0 558.0,700.0 C557.2,715.0 555.0,731.7 553.0,750.0 C551.0,768.3 546.5,799.7 546.0,810.0 C545.5,820.3 551.0,805.3 550.0,812.0 C549.0,818.7 545.0,839.7 540.0,850.0 C535.0,860.3 525.7,866.8 520.0,874.0 C514.3,881.2 511.3,889.8 506.0,893.0 C500.7,896.2 495.7,893.8 488.0,893.0 C480.3,892.2 468.0,890.5 460.0,888.0 C452.0,885.5 444.2,882.3 440.0,878.0 C435.8,873.7 435.0,868.3 435.0,862.0 C435.0,855.7 438.2,850.3 440.0,840.0 C441.8,829.7 444.7,813.3 446.0,800.0 C447.3,786.7 448.0,771.7 448.0,760.0 C448.0,748.3 445.7,741.7 446.0,730.0 C446.3,718.3 449.0,705.0 450.0,690.0 C451.0,675.0 452.0,655.3 452.0,640.0 C452.0,624.7 452.0,609.0 450.0,598.0 C448.0,587.0 441.7,580.3 440.0,574.0 C438.3,567.7 441.0,565.0 440.0,560.0 C439.0,555.0 435.3,551.3 434.0,544.0 C432.7,536.7 430.7,524.8 432.0,516.0 C433.3,507.2 437.3,496.0 442.0,491.0 Z" fill="none" stroke="#1c1c2a" stroke-width="1.4" stroke-linejoin="round" stroke-linecap="round" />
<path d="M660.5,466.5 C669.1,464.7 686.0,465.5 692.7,465.5 C699.5,465.5 697.8,465.1 701.0,466.5 C704.2,467.9 707.9,469.6 712.0,474.0 C716.1,478.4 723.0,488.5 725.5,492.7 C728.0,496.9 730.5,500.4 727.0,499.3 C723.5,498.2 707.2,486.5 704.2,486.2 C701.2,485.9 710.5,494.1 709.1,497.7 C707.7,501.2 694.6,504.8 696.0,507.5 C697.4,510.2 713.2,511.3 717.3,514.0 C721.4,516.7 722.2,521.4 720.6,523.9 C719.0,526.4 706.7,526.3 707.5,528.8 C708.3,531.2 719.5,535.3 725.5,538.6 C731.5,541.9 740.0,544.0 743.5,548.4 C747.0,552.8 749.8,561.8 746.8,564.8 C743.8,567.8 727.1,564.2 725.5,566.4 C723.9,568.6 733.7,572.2 737.0,577.9 C740.3,583.6 743.2,594.2 745.1,600.8 C747.0,607.3 747.6,610.7 748.4,617.2 C749.2,623.7 749.8,619.5 750.0,640.0 C750.2,660.5 749.8,716.1 749.8,740.0 C749.8,763.9 750.5,769.1 749.8,783.6 C749.1,798.1 747.2,814.0 745.5,827.3 C743.8,840.6 743.2,853.9 739.6,863.6 C736.0,873.3 729.9,880.2 723.6,885.5 C717.3,890.8 708.8,893.9 701.8,895.6 C694.8,897.3 688.3,897.8 681.5,895.6 C674.7,893.4 667.6,889.0 661.1,882.5 C654.6,876.0 646.3,865.6 642.2,856.4 C638.1,847.2 638.8,839.4 636.4,827.3 C634.0,815.2 630.5,798.1 627.6,783.6 C624.7,769.1 621.6,752.3 619.0,740.0 C616.4,727.7 614.2,720.8 612.0,710.0 C609.8,699.2 606.6,686.7 605.5,675.0 C604.4,663.3 605.3,652.6 605.5,640.0 C605.7,627.4 606.1,611.4 606.5,599.1 C606.9,586.8 607.0,577.3 608.1,566.4 C609.2,555.5 610.3,544.5 613.0,533.6 C615.7,522.7 619.9,510.4 624.5,500.9 C629.1,491.4 634.8,482.1 640.8,476.4 C646.8,470.7 651.9,468.3 660.5,466.5 Z" fill="#2f76de" stroke="none" stroke-width="1.0" stroke-linejoin="round" stroke-linecap="round" />
<rect x="600" y="460" width="165" height="440" filter="url(#wd)" clip-path="url(#cr)" opacity="0.5"/>
<rect x="600" y="460" width="165" height="440" filter="url(#wc)" clip-path="url(#cr)" opacity="0.32"/>
<path d="M695.0,564.7 C705.8,568.0 716.0,582.5 722.2,591.0 C728.4,599.5 730.1,607.3 732.0,615.5 C733.9,623.7 732.7,619.2 733.7,640.0 C734.7,660.8 737.7,713.6 738.2,740.0 C738.7,766.4 737.4,782.5 736.7,798.2 C736.0,814.0 736.2,823.4 733.8,834.5 C731.4,845.6 727.5,858.6 722.2,865.1 C716.9,871.6 708.6,872.3 701.8,873.8 C695.0,875.2 687.3,875.5 681.5,873.8 C675.7,872.1 671.0,871.4 666.9,863.6 C662.8,855.9 659.6,840.6 656.7,827.3 C653.8,814.0 651.9,798.1 649.5,783.6 C647.1,769.1 644.9,763.9 642.2,740.0 C639.5,716.1 634.8,662.1 633.5,640.0 C632.2,617.9 633.1,616.0 634.3,607.3 C635.5,598.6 637.0,593.7 640.8,587.7 C644.6,581.7 648.2,575.1 657.2,571.3 C666.2,567.5 684.2,561.4 695.0,564.7 Z" fill="#d8eaee" stroke="none" stroke-width="1.0" stroke-linejoin="round" stroke-linecap="round" />
<path d="M650.0,600.0 C655.3,585.0 671.7,586.7 680.0,590.0 C688.3,593.3 698.3,601.7 700.0,620.0 C701.7,638.3 695.0,676.7 690.0,700.0 C685.0,723.3 675.8,753.3 670.0,760.0 C664.2,766.7 658.7,753.3 655.0,740.0 C651.3,726.7 648.8,703.3 648.0,680.0 C647.2,656.7 644.7,615.0 650.0,600.0 Z" fill="#c3e0ea" stroke="none" stroke-width="1.0" stroke-linejoin="round" stroke-linecap="round" opacity="0.35"/>
<path d="M700.0,700.0 C705.0,688.3 715.0,680.0 720.0,690.0 C725.0,700.0 733.3,741.7 730.0,760.0 C726.7,778.3 706.7,800.0 700.0,800.0 C693.3,800.0 690.0,776.7 690.0,760.0 C690.0,743.3 695.0,711.7 700.0,700.0 Z" fill="#c3e0ea" stroke="none" stroke-width="1.0" stroke-linejoin="round" stroke-linecap="round" opacity="0.25"/>
<path d="M660.5,469.8 C669.4,467.1 684.1,465.7 692.7,466.5 C701.4,467.3 706.4,470.9 712.4,474.7 C718.4,478.5 724.2,483.8 728.8,489.5 C733.4,495.2 736.7,502.3 740.2,509.1 C743.7,515.9 747.3,522.2 750.0,530.4 C752.7,538.6 755.2,549.5 756.6,558.2 C758.0,566.9 757.8,569.2 758.2,582.8 C758.6,596.4 760.0,620.5 759.0,640.0 C758.0,659.5 754.2,683.3 752.0,700.0 C749.8,716.7 746.6,726.1 745.5,740.0 C744.4,753.9 746.0,769.1 745.5,783.6 C745.0,798.1 744.2,814.0 742.5,827.3 C740.8,840.6 739.0,854.1 735.3,863.6 C731.5,873.1 725.9,879.3 720.0,884.0 C714.1,888.7 706.4,890.5 700.0,892.0 C693.6,893.5 688.5,894.8 681.5,892.7 C674.5,890.6 665.0,885.7 658.2,879.6 C651.4,873.5 643.9,865.1 640.7,856.4 C637.6,847.7 640.5,839.4 639.3,827.3 C638.1,815.2 636.0,798.1 633.5,783.6 C631.0,769.1 627.2,753.1 624.0,740.0 C620.8,726.9 616.5,716.7 614.0,705.0 C611.5,693.3 609.9,680.8 609.0,670.0 C608.1,659.2 608.8,653.2 608.9,640.0 C609.0,626.8 609.0,605.9 609.7,590.9 C610.4,575.9 610.5,563.6 613.0,550.0 C615.5,536.4 620.1,520.3 624.5,509.1 C628.9,497.9 633.2,489.4 639.2,482.9 C645.2,476.3 651.6,472.5 660.5,469.8 Z" fill="none" stroke="#1c1c2a" stroke-width="1.3" stroke-linejoin="round" stroke-linecap="round" />
<path d="M695.0,558.2 C703.9,559.0 708.4,561.5 714.0,566.4 C719.6,571.3 725.0,580.9 728.8,587.7 C732.6,594.5 735.1,598.6 737.0,607.3 C738.9,616.0 739.5,617.9 740.2,640.0 C740.9,662.1 741.2,713.6 741.1,740.0 C741.0,766.4 740.3,781.2 739.6,798.2 C738.9,815.2 739.1,829.7 736.7,841.8 C734.3,853.9 730.9,864.1 725.1,870.9 C719.3,877.7 709.1,880.8 701.8,882.5 C694.5,884.2 688.3,884.0 681.5,881.1 C674.7,878.2 666.0,874.1 661.1,865.1 C656.2,856.1 654.8,840.9 652.4,827.3 C650.0,813.7 648.7,798.1 646.5,783.6 C644.3,769.1 643.0,763.9 639.3,740.0 C635.6,716.1 626.4,664.3 624.5,640.0 C622.6,615.7 625.0,605.1 627.7,594.2 C630.4,583.3 635.3,580.1 640.8,574.6 C646.3,569.1 651.5,564.2 660.5,561.5 C669.5,558.8 686.1,557.4 695.0,558.2 Z" fill="none" stroke="#1c1c2a" stroke-width="1.2" stroke-linejoin="round" stroke-linecap="round" />
<path d="M695.0,564.7 C705.8,568.0 716.0,582.5 722.2,591.0 C728.4,599.5 730.1,607.3 732.0,615.5 C733.9,623.7 732.7,619.2 733.7,640.0 C734.7,660.8 737.7,713.6 738.2,740.0 C738.7,766.4 737.4,782.5 736.7,798.2 C736.0,814.0 736.2,823.4 733.8,834.5 C731.4,845.6 727.5,858.6 722.2,865.1 C716.9,871.6 708.6,872.3 701.8,873.8 C695.0,875.2 687.3,875.5 681.5,873.8 C675.7,872.1 671.0,871.4 666.9,863.6 C662.8,855.9 659.6,840.6 656.7,827.3 C653.8,814.0 651.9,798.1 649.5,783.6 C647.1,769.1 644.9,763.9 642.2,740.0 C639.5,716.1 634.8,662.1 633.5,640.0 C632.2,617.9 633.1,616.0 634.3,607.3 C635.5,598.6 637.0,593.7 640.8,587.7 C644.6,581.7 648.2,575.1 657.2,571.3 C666.2,567.5 684.2,561.4 695.0,564.7 Z" fill="none" stroke="#1c1c2a" stroke-width="1.2" stroke-linejoin="round" stroke-linecap="round" />
<path d="M632.7,640.7 C634.5,644.1 639.8,653.3 643.6,661.0 C647.4,668.7 652.6,677.8 655.3,687.0 C658.0,696.2 659.6,706.2 659.6,716.0 C659.6,725.8 656.9,736.8 655.3,745.5 C653.7,754.2 650.9,764.2 650.0,768.0 " fill="none" stroke="#1c1c2a" stroke-width="1.0" stroke-linejoin="round" stroke-linecap="round" />
<path d="M680,550 C665,544 642,542 631,545 C625,549 627,557 640,558 C655,558 670,555 680,550 Z M680,550 C695,544 720,541 731,544 C738,549 735,557 722,558 C705,558 690,555 680,550 Z M680,550 C665,540 640,532 630,526 M680,550 C700,540 720,530 731,524" fill="none" stroke="#1c1c2a" stroke-width="1.1"/><circle cx="680.5" cy="549.5" r="2" fill="none" stroke="#1c1c2a" stroke-width="1"/>
<path d="M624.5,593.7 L629.0,598.8 L623.5,602.7 L627.9,607.7 L622.5,611.6 L626.9,616.6 L621.6,621.1 L627.0,625.1 L622.5,630.0 L627.9,634.0 L623.4,639.0 L628.0,643.5 L622.5,647.3 L626.8,652.5 L621.2,656.2 L625.5,661.4 L620.0,665.1 L624.3,670.3 L618.7,674.0 L623.0,679.2 L617.5,683.0 L621.8,688.1 L617.2,692.9 L623.3,695.8 L619.8,701.5 L625.8,704.4 L622.3,710.1 L628.4,713.0 L624.9,718.8 L630.9,721.7 L627.4,727.4 L633.5,730.3 L630.1,736.0 L636.2,738.9 L632.7,744.6 L638.8,747.5 L635.3,753.2 L641.4,756.1 L637.8,761.7 L643.7,765.0 L639.8,770.5 L645.7,773.8 L641.8,779.2 L647.6,782.5 L643.7,788.0 L649.6,791.3 L645.7,796.8 L651.6,800.2 L647.4,805.5 L653.1,809.1 L649.0,814.4 L654.7,817.9 L650.5,823.2 L656.2,826.8 L652.1,832.1 L657.8,835.7 L653.8,841.3 L659.9,844.1 L656.4,849.9 L662.5,852.7 L659.1,858.5 L665.2,861.3 L662.8,868.2 L669.4,866.9 L670.0,873.6 L676.6,872.3 L677.2,879.0 L683.1,875.8 L687.1,881.2 L692.0,876.7 L696.0,882.1" fill="none" stroke="#1c1c2a" stroke-width="0.8" stroke-linejoin="miter"/>
<path d="M709.9,567.4 L716.9,568.8 L715.5,575.7 L722.4,577.1 L721.0,584.0 L727.9,585.4 L726.1,592.0 L732.6,594.8 L729.8,601.3 L736.3,604.1 L733.5,610.6 L740.0,613.4 L735.6,619.3 L740.7,624.2 L735.8,629.3 L740.9,634.2 L736.0,639.3 L741.1,644.2 L736.3,649.3 L741.4,654.2 L736.5,659.3 L741.6,664.2 L736.7,669.3 L741.7,674.2 L736.8,679.3 L741.9,684.2 L737.0,689.3 L742.1,694.2 L737.2,699.3 L742.2,704.2 L737.3,709.3 L742.4,714.2 L737.5,719.3 L742.4,724.3 L737.3,729.2 L742.3,734.3 L737.2,739.2 L742.1,744.2 L737.0,749.2 L741.9,754.2 L736.8,759.2 L741.8,764.2 L736.7,769.2 L741.6,774.2 L736.5,779.2 L741.2,784.3 L736.0,789.0 L740.6,794.3 L735.4,799.0 L740.0,804.3 L734.8,809.0 L739.4,814.3 L734.2,819.0 L738.8,824.3 L733.6,829.0 L737.1,834.7 L730.7,837.9 L733.9,844.2 L727.6,847.3 L730.7,853.7 L724.4,856.8 L727.6,863.2" fill="none" stroke="#1c1c2a" stroke-width="0.8" stroke-linejoin="miter"/>
<path d="M668.4,768.4 L722,770 L722.2,833.1 L668,834 Z" fill="#f3f7f5" stroke="#8a8a8a" stroke-width="1"/>
<path d="M677,776 q3,4 6,0 q3,4 6,0 q3,3 5,0 M712,776 v8 M685,798 a4,4 0 1,0 1,0 M697,792 q6,2 2,10 M704,798 q8,-2 12,6 q-6,2 -12,-6 M684,812 q-6,4 0,10 q4,2 2,-4 M696,806 q8,2 6,14 q-4,2 -4,-2" fill="none" stroke="#888" stroke-width="0.9"/>
<path d="M510.5,504 C525,476 534,436 502,408.5" fill="none" stroke="#333" stroke-width="2.8" stroke-linecap="round"/><path d="M522.0,415.3 L501.6,408.0 L504.5,427.6" fill="none" stroke="#333" stroke-width="2.8" stroke-linecap="round" stroke-linejoin="round"/><path d="M707.6,634.8 C750,585 800,520 804.7,444" fill="none" stroke="#333" stroke-width="2.8" stroke-linecap="round"/><path d="M791.6,457.1 L804.7,444.0 L811.2,463.6" fill="none" stroke="#333" stroke-width="2.8" stroke-linecap="round" stroke-linejoin="round"/><path d="M464.8,712.3 C425,719 365,722 330,713.5 C318,710 307,701 298.5,693" fill="none" stroke="#333" stroke-width="2.8" stroke-linecap="round"/><path d="M316.3,696.8 L298.1,692.5 L303.3,713.2" fill="none" stroke="#333" stroke-width="2.8" stroke-linecap="round" stroke-linejoin="round"/><path d="M438,867.6 C410,848 370,840 342.5,870.5" fill="none" stroke="#333" stroke-width="2.8" stroke-linecap="round"/><path d="M350.2,850.2 L342.0,870.9 L361.6,868.7" fill="none" stroke="#333" stroke-width="2.8" stroke-linecap="round" stroke-linejoin="round"/><path d="M690.9,813.3 C740,805 790,830 807.5,879.5" fill="none" stroke="#333" stroke-width="2.8" stroke-linecap="round"/><path d="M792.0,870.7 L808.0,880.2 L809.5,858.4" fill="none" stroke="#333" stroke-width="2.8" stroke-linecap="round" stroke-linejoin="round"/>
<path d="M416.7,85.5 C414.8,84.5 407.8,79.3 405.1,79.6 C402.4,79.8 401.3,82.2 400.5,87.0 C399.7,91.8 400.0,101.9 400.5,108.6 C401.0,115.3 402.2,123.2 403.5,127.2 C404.8,131.2 405.6,132.6 408.2,132.6 C410.8,132.6 417.2,128.1 419.0,127.2 " fill="none" stroke="#111" stroke-width="3.1" stroke-linecap="round" stroke-linejoin="round"/><path d="M392.7,108.6 L429.0,100.1" fill="none" stroke="#111" stroke-width="3.1" stroke-linecap="round"/><path d="M437.0,113.6 L437.3,127.0" fill="none" stroke="#111" stroke-width="3.1" stroke-linecap="round"/><path d="M438.2,123.5 C439.1,122.4 441.8,116.6 443.6,116.8 C445.4,117.0 447.0,124.3 449.1,124.5 C451.2,124.7 454.4,118.5 456.4,117.7 C458.4,116.9 460.1,118.0 460.9,119.5 C461.7,121.0 461.3,125.6 461.4,126.8 " fill="none" stroke="#111" stroke-width="3.1" stroke-linecap="round" stroke-linejoin="round"/><path d="M470.9,113.6 L471.4,127.0" fill="none" stroke="#111" stroke-width="3.1" stroke-linecap="round"/><path d="M471.8,123.5 C472.7,122.5 475.5,117.1 477.3,117.3 C479.1,117.5 480.6,124.4 482.7,124.5 C484.8,124.6 488.0,118.5 490.0,117.7 C492.0,116.9 493.7,118.0 494.5,119.5 C495.3,121.0 494.9,125.6 495.0,126.8 " fill="none" stroke="#111" stroke-width="3.1" stroke-linecap="round" stroke-linejoin="round"/><path d="M515.5,112.5 C514.4,112.9 510.7,113.8 509.0,115.0 C507.3,116.2 506.1,117.8 505.5,119.5 C504.9,121.2 504.9,124.2 505.5,125.0 C506.1,125.8 507.6,125.5 509.0,124.5 C510.4,123.5 512.8,120.8 514.0,119.0 C515.2,117.2 515.6,113.5 516.4,114.0 C517.1,114.5 517.9,119.5 518.5,122.0 C519.1,124.5 519.6,126.9 520.0,129.0 C520.4,131.1 520.8,133.6 521.0,134.5 " fill="none" stroke="#111" stroke-width="3.1" stroke-linecap="round" stroke-linejoin="round"/><path d="M555.0,85.0 L557.4,132.6" fill="none" stroke="#111" stroke-width="3.1" stroke-linecap="round"/><path d="M555.0,86.0 C555.7,84.8 555.6,80.4 559.0,79.0 C562.4,77.6 572.4,77.9 575.1,77.7 " fill="none" stroke="#111" stroke-width="3.1" stroke-linecap="round" stroke-linejoin="round"/><path d="M556.6,106.3 L575.9,100.9" fill="none" stroke="#111" stroke-width="3.1" stroke-linecap="round"/><path d="M580.5,111.7 L582.1,128.0" fill="none" stroke="#111" stroke-width="3.1" stroke-linecap="round"/><path d="M582.5,122.0 C584.0,120.4 588.1,114.3 591.4,112.5 C594.7,110.7 600.4,111.2 602.2,111.0 " fill="none" stroke="#111" stroke-width="3.1" stroke-linecap="round" stroke-linejoin="round"/><path d="M623.0,111.7 C621.5,112.2 615.8,112.7 613.8,114.8 C611.8,116.9 610.6,122.3 610.7,124.1 C610.8,125.9 612.7,126.6 614.6,125.6 C616.5,124.6 620.9,120.2 622.3,117.9 C623.7,115.6 622.5,110.5 623.0,111.7 C623.5,112.9 624.5,121.3 625.0,125.0 C625.5,128.7 625.9,132.6 626.1,134.1 " fill="none" stroke="#111" stroke-width="3.1" stroke-linecap="round" stroke-linejoin="round"/><path d="M633.9,116.4 L634.6,127.2" fill="none" stroke="#111" stroke-width="3.1" stroke-linecap="round"/><path d="M634.6,122.0 C636.1,120.3 640.3,111.4 643.9,111.7 C647.5,112.0 654.2,122.0 656.3,124.1 " fill="none" stroke="#111" stroke-width="3.1" stroke-linecap="round" stroke-linejoin="round"/><path d="M676.4,111.7 C674.3,112.7 665.5,115.6 664.0,117.9 C662.5,120.2 664.8,124.4 667.1,125.6 C669.4,126.8 676.1,125.0 677.9,124.9 " fill="none" stroke="#111" stroke-width="3.1" stroke-linecap="round" stroke-linejoin="round"/><path d="M687.2,111.0 L688.7,124.1" fill="none" stroke="#111" stroke-width="3.1" stroke-linecap="round"/><path d="M705.7,108.6 C704.4,109.2 699.0,111.1 698.0,112.5 C697.0,113.9 698.6,115.1 700.0,117.0 C701.4,118.9 706.6,122.1 706.5,124.1 C706.4,126.0 700.8,127.9 699.6,128.7 " fill="none" stroke="#111" stroke-width="3.1" stroke-linecap="round" stroke-linejoin="round"/>
</svg>
<div class="l" style="font-size:26px;font-weight:bold;-webkit-text-stroke:0.35px #111;left:270.56px;top:303.66px;transform:scale(1.0196,0.8800)">本底</div>
<div class="l" style="font-size:15px;font-weight:bold;-webkit-text-stroke:0.18px #111;left:214.15px;top:345.20px;transform:scale(1.1100,0.9000)">革底のような風合いと</div>
<div class="l" style="font-size:15px;font-weight:bold;-webkit-text-stroke:0.18px #111;left:180.00px;top:370.25px;transform:scale(1.1100,0.9000)">柔らかさ・グリップを追求した</div>
<div class="l" style="font-size:15px;font-weight:bold;-webkit-text-stroke:0.18px #111;left:227.42px;top:393.41px;transform:scale(1.1100,0.9000)">オリジナルソール。</div>
<div class="l" style="font-size:15px;font-weight:bold;-webkit-text-stroke:0.18px #111;left:161.40px;top:418.80px;transform:scale(1.1100,0.9000)">まるで素足のような履き心地を実現</div>
<div class="l" style="font-size:26px;font-weight:bold;-webkit-text-stroke:0.35px #111;left:830.38px;top:295.04px;transform:scale(1.0362,0.9500)">スポンジ</div>
<div class="l" style="font-size:15px;font-weight:bold;-webkit-text-stroke:0.18px #111;left:744.21px;top:337.03px;transform:scale(1.1100,0.9000)">衝撃吸収のポロン材とラテックス材の</div>
<div class="l" style="font-size:15px;font-weight:bold;-webkit-text-stroke:0.18px #111;left:742.56px;top:362.37px;transform:scale(1.1100,0.9000)"><span style="display:inline-block;transform:translateY(2.8px) scale(1.08,1.28);transform-origin:50% 92%">W</span> 構造で長時間のクッション性を維持</div>
<div class="l" style="font-size:26px;font-weight:bold;-webkit-text-stroke:0.35px #111;left:103.96px;top:585.44px;transform:scale(1.0203,0.9500)">ライニング</div>
<div class="l" style="font-size:15px;font-weight:bold;-webkit-text-stroke:0.18px #111;left:89.94px;top:627.78px;transform:scale(1.1100,0.9000)">抗菌防臭加工を施した</div>
<div class="l" style="font-size:15px;font-weight:bold;-webkit-text-stroke:0.18px #111;left:96.25px;top:653.03px;transform:scale(1.1100,0.9000)">国産ソフトニットで</div>
<div class="l" style="font-size:15px;font-weight:bold;-webkit-text-stroke:0.18px #111;left:97.96px;top:676.57px;transform:scale(1.1100,0.9000)">肌触りと機能を両立</div>
<div class="l" style="font-size:26px;font-weight:bold;-webkit-text-stroke:0.35px #111;left:173.24px;top:885.96px;transform:scale(1.0867,0.8800)">履き口</div>
<div class="l" style="font-size:15px;font-weight:bold;-webkit-text-stroke:0.18px #111;left:151.44px;top:927.36px;transform:scale(1.1100,0.9000)">ゴム絞り仕様で、</div>
<div class="l" style="font-size:15px;font-weight:bold;-webkit-text-stroke:0.18px #111;left:118.79px;top:951.36px;transform:scale(1.1100,0.9000)">どんな姿勢でも脱げない、</div>
<div class="l" style="font-size:15px;font-weight:bold;-webkit-text-stroke:0.18px #111;left:98.01px;top:975.36px;transform:scale(1.1100,0.9000)">包み込むフィッティングを提供</div>
<div class="l" style="font-size:26px;font-weight:bold;-webkit-text-stroke:0.35px #111;left:820.98px;top:913.10px;transform:scale(1.0226,0.9500)">インソール</div>
<div class="l" style="font-size:15px;font-weight:bold;-webkit-text-stroke:0.18px #111;left:748.00px;top:957.00px;transform:scale(1.1100,0.9000)">革により近い人工皮革材パブロを使用</div>
<div class="l" style="font-size:15px;font-weight:bold;-webkit-text-stroke:0.18px #111;left:746.00px;top:981.00px;transform:scale(1.1100,0.9000)">滑らかな足あたりと通気、制菌加工で</div>
<div class="l" style="font-size:15px;font-weight:bold;-webkit-text-stroke:0.18px #111;left:839.00px;top:1005.00px;transform:scale(1.1100,0.9000)">清潔さを維持</div>
<div class="l" style="font-size:38px;font-weight:normal;left:403.84px;top:172.24px;transform:scale(1.0541,0.9412)">エマのこだわり</div>

</body></html>
